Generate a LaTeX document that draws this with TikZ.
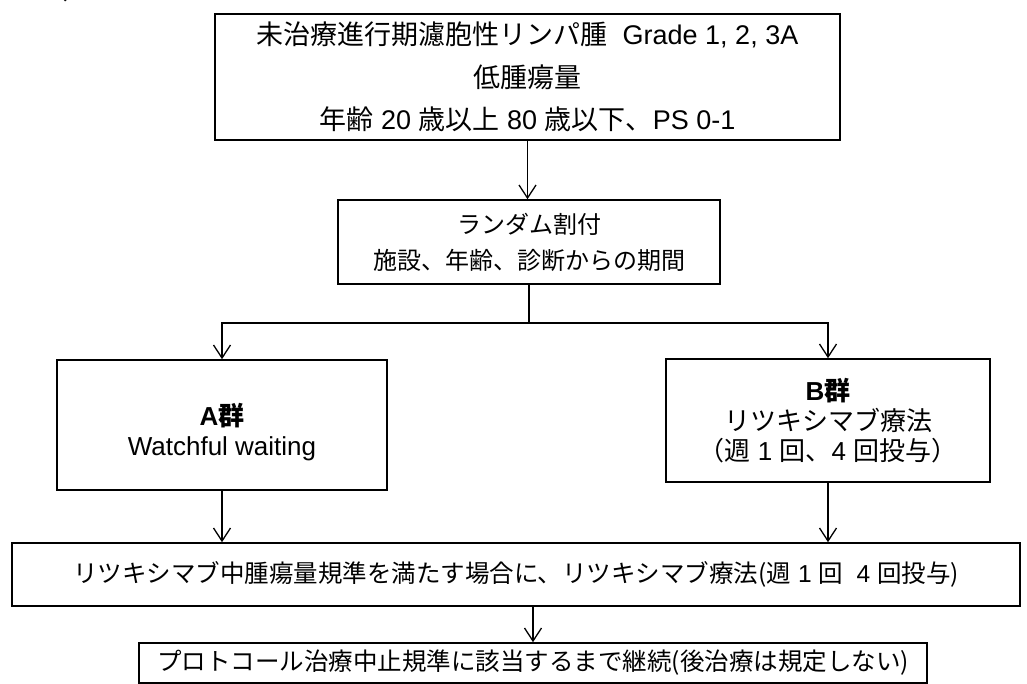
\documentclass[tikz,border=0pt]{standalone}
\usepackage{fontspec}
\setmainfont{Liberation Sans}
\newfontfamily\jp{Noto Sans CJK JP}
\usetikzlibrary{arrows.meta,calc}
\begin{document}
\begin{tikzpicture}[x=1pt,y=-1pt,
  box/.style={draw,line width=1.6pt,inner sep=0pt,align=center,font=\fontsize{24}{30}\selectfont},
  arr/.style={line width=1.4pt,-{Straight Barb[length=13pt,width=17pt,line width=1.3pt]}},
  lin/.style={line width=1.4pt}]
\useasboundingbox (0,0) rectangle (1027,684);
\begin{scope}
\clip (0,0) rectangle (120,8);
\node[anchor=base west,inner sep=0pt,font=\fontsize{26}{30}\selectfont\jp] (cut) at (2,1) {エ\hspace{30pt}、};
\end{scope}
\node[box,minimum width=625pt,minimum height=126pt,font=\fontsize{27}{42.5}\selectfont] (top) at (527.5,77)
  {{\jp 未治療進行期濾胞性リンパ腫}\ \ Grade 1, 2, 3A\\ {\jp 低腫瘍量}\\ {\jp 年齢} 20 {\jp 歳以上} 80 {\jp 歳以下、}PS 0-1};
\node[box,minimum width=382pt,minimum height=84pt,font=\fontsize{24}{36}\selectfont] (rand) at (529,242)
  {{\jp ランダム割付}\\ {\jp 施設、年齢、診断からの期間}};
\node[box,minimum width=330pt,minimum height=130pt,font=\fontsize{26}{30}\selectfont] (A) at (222,425)
  {\rule{0pt}{36pt}\textbf{A}{\jp\bfseries 群}\\ Watchful waiting};
\node[box,minimum width=324pt,minimum height=123pt,font=\fontsize{26}{30}\selectfont] (B) at (828,420.5)
  {\textbf{B}{\jp\bfseries 群}\\ {\jp リツキシマブ療法}\\ {\jp （週} 1 {\jp 回、}4 {\jp 回投与）}};
\node[box,minimum width=1008pt,minimum height=63pt,font=\fontsize{24.5}{30}\selectfont] (wide) at (516,574.5)
  {{\jp リツキシマブ中腫瘍量規準を満たす場合に、リツキシマブ療法(週} 1 {\jp 回}\ \ 4 {\jp 回投与)}};
\node[box,minimum width=788pt,minimum height=40pt,font=\fontsize{24.5}{28}\selectfont] (fin) at (533,663)
  {{\jp プロトコール治療中止規準に該当するまで継続(後治療は規定しない)}};
\draw[arr] (top.south) -- (top.south |- rand.north);
\coordinate (split) at ($(rand.south)+(0,38)$);
\draw[lin] (rand.south) -- (split);
\draw[arr] (split) -| (A.north);
\draw[arr] (split) -| (B.north);
\draw[arr] (A.south) -- (A.south |- wide.north);
\draw[arr] (B.south) -- (B.south |- wide.north);
\draw[arr] (wide.south -| fin.north) -- (fin.north);
\end{tikzpicture}
\end{document}
